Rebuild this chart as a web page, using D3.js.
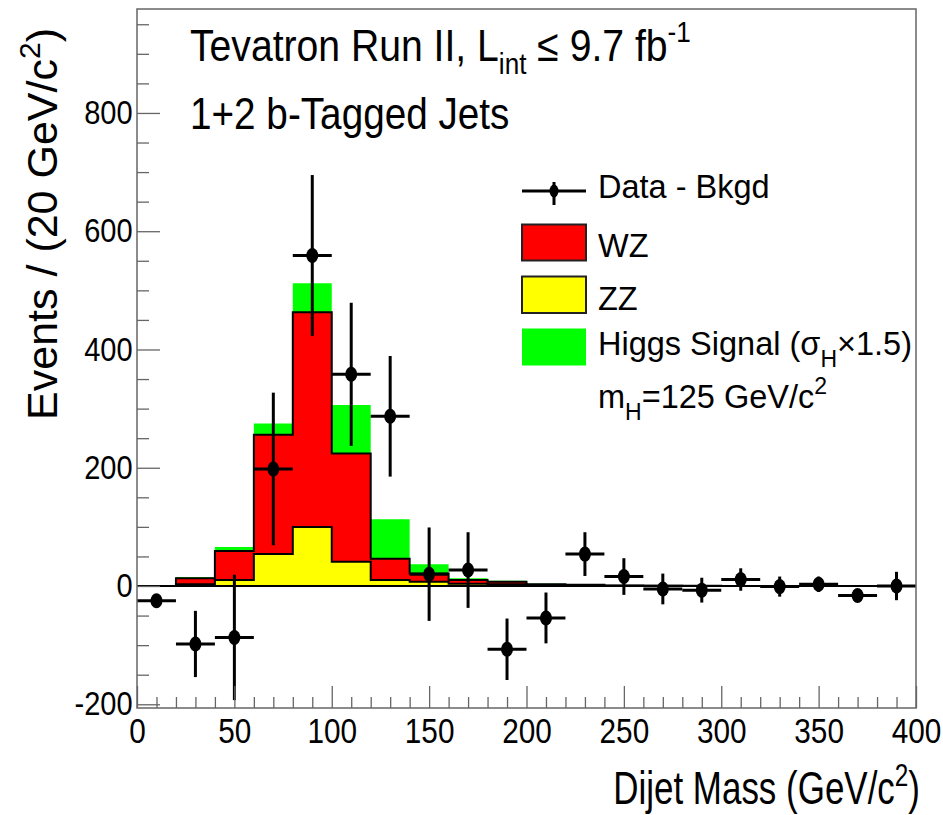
<!DOCTYPE html>
<head>
<meta charset="utf-8">
<script src="https://d3js.org/d3.v7.min.js"></script>
<style>
  body { margin:0; background:#fff; }
  svg { display:block; }
  text { font-family: 'Liberation Sans', Arial, Helvetica, sans-serif; fill:#000; }
  .frame { fill:none; stroke:#666; stroke-width:1.5; }
  .axis path { display:none; }
  .axis line { stroke:#666; stroke-width:1.3; }
  .outline { fill:none; stroke:#000; stroke-width:2; }
  .zero-line { stroke:#000; stroke-width:2; }
  .err { stroke:#000; stroke-width:3; }
</style>
</head>
<body>
<script>
  // bin centres (GeV/c^2), 20 GeV wide bins
  const binCenters = [10, 30, 50, 70, 90, 110, 130, 150, 170, 190, 210, 230, 250, 270, 290, 310, 330, 350, 370, 390];
  const zzVals    = [0, 3, 10, 54, 100, 41, 10, 7, 4, 3, 1.5, 1, 0.5, 0.3, 0.2, 0.1, 0, 0, 0, 0];
  const wzVals    = [0, 10, 49, 202, 363, 183, 36, 14, 6, 4, 1.5, 1, 0.5, 0.3, 0.2, 0.1, 0, 0, 0, 0];
  const higgsVals = [0, 2, 7, 19, 49, 82, 67, 16, 3, 2, 1, 0.5, 0.5, 0.2, 0.1, 0, 0, 0, 0, 0];
  const dataVals  = [-25, -98, -87, 198, 559, 358, 287, 20, 27, -107, -54, 54, 16, -5, -7, 11, -1, 3, -16, 0];
  const dataErrs  = [8, 56, 106, 129, 136, 121, 102, 79, 64, 52, 43, 37, 31, 26, 21, 19, 17, 13, 8, 24];

  const xMajorTicks = [0, 50, 100, 150, 200, 250, 300, 350, 400];
  const yMajorTicks = [-200, 0, 200, 400, 600, 800];

  const binWidth = 20;
  const width = 943, height = 815;
  const frame = {left: 137, right: 916, top: 9, bottom: 708};

  const x = d3.scaleLinear().domain([0, 400]).range([frame.left, frame.right]);
  const y = d3.scaleLinear().domain([-206.3, 975.8]).range([frame.bottom, frame.top]);

  const svg = d3.select('body').append('svg')
      .attr('width', width)
      .attr('height', height);

  svg.append('defs').append('clipPath').attr('id', 'plot-clip')
    .append('rect')
      .attr('x', frame.left).attr('y', frame.top)
      .attr('width', frame.right - frame.left)
      .attr('height', frame.bottom - frame.top);

  // step data: one point per low edge, then the final edge repeated
  function steps(vals) {
    const pts = binCenters.map((c, i) => ({e: c - binWidth / 2, v: vals[i]}));
    pts.push({e: binCenters[binCenters.length - 1] + binWidth / 2, v: vals[vals.length - 1]});
    return pts;
  }

  const zzStack = zzVals;
  const wzStack = zzVals.map((v, i) => v + wzVals[i]);
  const allStack = wzStack.map((v, i) => v + higgsVals[i]);

  const area = d3.area().curve(d3.curveStepAfter)
      .x(d => x(d.e)).y0(y(0)).y1(d => y(d.v));
  const line = d3.line().curve(d3.curveStepAfter)
      .x(d => x(d.e)).y(d => y(d.v));

  const plot = svg.append('g').attr('clip-path', 'url(#plot-clip)');

  plot.append('path').datum(steps(allStack)).attr('d', area).attr('fill', '#00ff00');
  plot.append('path').datum(steps(wzStack)).attr('d', area).attr('fill', '#ff0000');
  plot.append('path').datum(steps(zzStack)).attr('d', area).attr('fill', '#ffff00');
  plot.append('path').datum(steps(wzStack)).attr('d', line).attr('class', 'outline');
  plot.append('path').datum(steps(zzStack)).attr('d', line).attr('class', 'outline');

  plot.append('line').attr('class', 'zero-line')
      .attr('x1', x(0)).attr('x2', x(400))
      .attr('y1', y(0)).attr('y2', y(0));

  // data points with errors
  const pts = plot.append('g').selectAll('g')
      .data(binCenters.map((c, i) => ({c, v: dataVals[i], e: dataErrs[i]})))
      .enter().append('g');

  pts.append('line').attr('class', 'err')
      .attr('x1', d => x(d.c - binWidth / 2)).attr('x2', d => x(d.c + binWidth / 2))
      .attr('y1', d => y(d.v)).attr('y2', d => y(d.v));
  pts.append('line').attr('class', 'err')
      .attr('x1', d => x(d.c)).attr('x2', d => x(d.c))
      .attr('y1', d => y(d.v - d.e)).attr('y2', d => y(d.v + d.e));
  pts.append('ellipse')
      .attr('cx', d => x(d.c)).attr('cy', d => y(d.v))
      .attr('rx', 6).attr('ry', 7.5).attr('fill', '#000');

  // axes, ticks pointing into the frame
  const xMinor = d3.range(0, 401, 10).filter(v => v % 50 !== 0);
  const yMinor = d3.range(-200, 976, 50).filter(v => v % 200 !== 0);

  const xAxis = svg.append('g').attr('class', 'axis')
      .attr('transform', `translate(0,${frame.bottom})`)
      .call(d3.axisBottom(x).tickValues(xMajorTicks).tickSize(-22).tickPadding(10).tickFormat(d => String(d)));
  svg.append('g').attr('class', 'axis')
      .attr('transform', `translate(0,${frame.bottom})`)
      .call(d3.axisBottom(x).tickValues(xMinor).tickSize(-11).tickFormat(''));

  const yAxis = svg.append('g').attr('class', 'axis')
      .attr('transform', `translate(${frame.left},0)`)
      .call(d3.axisLeft(y).tickValues(yMajorTicks).tickSize(-23).tickPadding(5).tickFormat(d => String(d)));
  svg.append('g').attr('class', 'axis')
      .attr('transform', `translate(${frame.left},0)`)
      .call(d3.axisLeft(y).tickValues(yMinor).tickSize(-12).tickFormat(''));

  xAxis.selectAll('text')
      .attr('font-size', 35).attr('font-family', null)
      .attr('transform', 'scale(0.85,1)');
  yAxis.selectAll('text')
      .attr('font-size', 33).attr('font-family', null)
      .attr('transform', 'scale(0.88,1)');

  svg.append('rect').attr('class', 'frame')
      .attr('x', frame.left).attr('y', frame.top)
      .attr('width', frame.right - frame.left)
      .attr('height', frame.bottom - frame.top);

  // axis titles
  const xTitle = svg.append('text')
      .attr('transform', `translate(920,804) scale(0.76,1)`)
      .attr('text-anchor', 'end')
      .attr('font-size', 46);
  xTitle.append('tspan').text('Dijet Mass (GeV/c');
  xTitle.append('tspan').attr('dy', -18).attr('font-size', 32).text('2');
  xTitle.append('tspan').attr('dy', 18).text(')');

  const yTitle = svg.append('text')
      .attr('transform', 'translate(57,28) rotate(-90)')
      .attr('text-anchor', 'end')
      .attr('font-size', 43);
  yTitle.append('tspan').text('Events / (20 GeV/c');
  yTitle.append('tspan').attr('dy', -17).attr('font-size', 30).text('2');
  yTitle.append('tspan').attr('dy', 17).text(')');

  // header text
  const head1 = svg.append('text')
      .attr('transform', 'translate(190,61) scale(0.87,1)')
      .attr('font-size', 45);
  head1.append('tspan').text('Tevatron Run II, L');
  head1.append('tspan').attr('dy', 13).attr('font-size', 30).text('int');
  head1.append('tspan').attr('dy', -13).text(' \u2264 9.7 fb');
  head1.append('tspan').attr('dy', -19).attr('font-size', 30).text('-1');

  svg.append('text')
      .attr('transform', 'translate(190,129) scale(0.86,1)')
      .attr('font-size', 45)
      .text('1+2 b-Tagged Jets');

  // legend
  const legend = svg.append('g');
  const lx0 = 522, lx1 = 586, tx = 598;

  legend.append('line').attr('class', 'err').attr('stroke-width', 2.5)
      .attr('x1', lx0).attr('x2', lx1).attr('y1', 191).attr('y2', 191);
  legend.append('line').attr('class', 'err').attr('stroke-width', 2.5)
      .attr('x1', (lx0 + lx1) / 2).attr('x2', (lx0 + lx1) / 2).attr('y1', 182).attr('y2', 205);
  legend.append('ellipse').attr('cx', (lx0 + lx1) / 2).attr('cy', 191)
      .attr('rx', 4.5).attr('ry', 6.5).attr('fill', '#000');
  legend.append('text').attr('x', tx).attr('y', 198).attr('font-size', 32.5).text('Data - Bkgd');

  legend.append('rect').attr('x', lx0).attr('y', 224.5).attr('width', lx1 - lx0).attr('height', 36)
      .attr('fill', '#ff0000').attr('stroke', '#222').attr('stroke-width', 2);
  legend.append('text').attr('x', tx).attr('y', 257).attr('font-size', 32.5).text('WZ');

  legend.append('rect').attr('x', lx0).attr('y', 276.5).attr('width', lx1 - lx0).attr('height', 36.5)
      .attr('fill', '#ffff00').attr('stroke', '#222').attr('stroke-width', 2);
  legend.append('text').attr('x', tx).attr('y', 309.5).attr('font-size', 32.5).text('ZZ');

  legend.append('rect').attr('x', lx0).attr('y', 328.5).attr('width', lx1 - lx0).attr('height', 37)
      .attr('fill', '#00ff00');
  const hig = legend.append('text').attr('x', tx).attr('y', 355).attr('font-size', 32.5);
  hig.append('tspan').text('Higgs Signal (\u03c3');
  hig.append('tspan').attr('dy', 12).attr('font-size', 23).text('H');
  hig.append('tspan').attr('dy', -12).text('\u00d71.5)');

  const mh = legend.append('text').attr('x', tx).attr('y', 408).attr('font-size', 32.5);
  mh.append('tspan').text('m');
  mh.append('tspan').attr('dy', 12).attr('font-size', 23).text('H');
  mh.append('tspan').attr('dy', -12).text('=125 GeV/c');
  mh.append('tspan').attr('dy', -14).attr('font-size', 23).text('2');
</script>
</body>
